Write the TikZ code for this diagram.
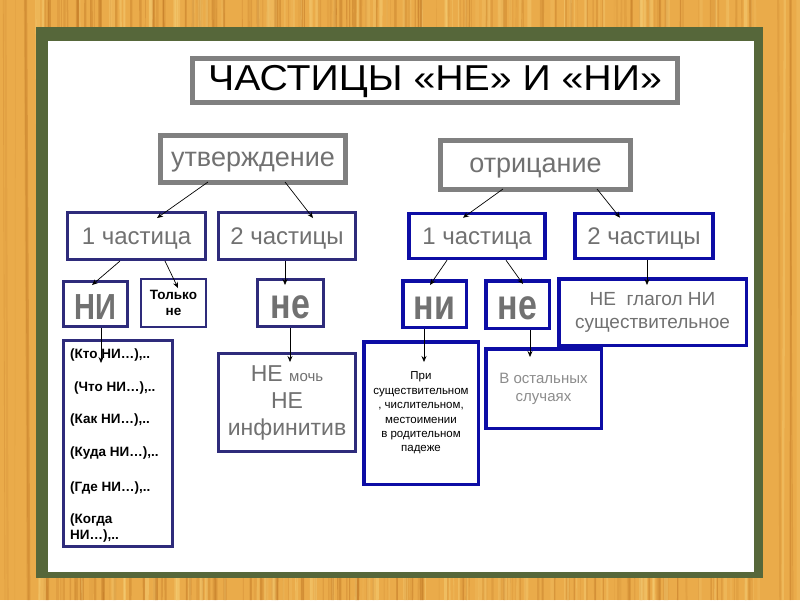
\documentclass[tikz,border=0pt]{standalone}
\usepackage{fontspec}
\usepackage{graphicx}
\setmainfont{Liberation Sans}
\usetikzlibrary{arrows.meta}
\definecolor{wood}{HTML}{EAAB4A}
\definecolor{grain}{HTML}{B96E1E}
\definecolor{lgrain}{HTML}{F7D27A}
\definecolor{boardgreen}{HTML}{56673A}
\definecolor{navy}{HTML}{2E2B7B}
\definecolor{bblue}{HTML}{0D0DA5}
\definecolor{gframe}{HTML}{808080}
\definecolor{gtext}{HTML}{717171}
\definecolor{ltext}{HTML}{8C8C8C}
\newcommand{\fsz}[2]{\fontsize{#1}{#2}\selectfont}
\newcommand{\tall}[1]{\raisebox{-15pt}[0pt][0pt]{\scalebox{1}[1.25]{#1}}}
\tikzset{
  box/.style={draw, fill=white, inner sep=0pt},
  graybox/.style={box, draw=gframe, line width=5pt},
  navybox/.style={box, draw=navy, line width=3pt},
  thinnavy/.style={box, draw=navy, line width=2pt},
  bluebox/.style={box, draw=bblue, line width=3.5pt},
  oneline/.style={text depth=0pt},
  arr/.style={draw=black, line width=0.7pt, -{Stealth[length=6pt,width=5pt]}},
  listtext/.style={anchor=west, inner sep=0pt, font=\fsz{13.5}{16}\bfseries, align=left},
}
\begin{document}
\begin{tikzpicture}[x=1pt,y=-1pt]
\useasboundingbox (0,0) rectangle (800,600);
% wooden frame
\fill[wood] (0,0) rectangle (800,600);
\pgfmathsetseed{7}
\foreach \i in {1,...,160}{
  \pgfmathsetmacro\xx{rnd*800}
  \pgfmathsetmacro\ww{0.4+rnd*2.5}
  \pgfmathsetmacro\oo{0.1+rnd*0.35}
  \pgfmathsetmacro\dx{rnd*8-4}
  \draw[grain, line width=\ww pt, opacity=\oo] (\xx,0) -- (\xx+\dx,600);
}
\foreach \i in {1,...,80}{
  \pgfmathsetmacro\xx{rnd*800}
  \pgfmathsetmacro\ww{1+rnd*3}
  \pgfmathsetmacro\oo{0.15+rnd*0.35}
  \pgfmathsetmacro\dx{rnd*8-4}
  \draw[lgrain, line width=\ww pt, opacity=\oo] (\xx,0) -- (\xx+\dx,600);
}
% board
\fill[boardgreen] (36,27) rectangle (763,578);
\fill[white] (48,41) rectangle (754,572);

% title
\node[graybox, minimum width=485pt, minimum height=44pt, text=black, font=\fsz{36}{40}] (title) at (435,80.5) {\raisebox{-10pt}[0pt][0pt]{\scalebox{1.09}[1]{ЧАСТИЦЫ «НЕ» И «НИ»}}};

% level 1
\node[graybox, oneline, minimum width=185pt, minimum height=47pt, text=gtext, font=\fsz{27}{30}] (utv) at (253,159) {утверждение};
\node[graybox, oneline, minimum width=190pt, minimum height=49pt, text=gtext, font=\fsz{27}{30}] (otr) at (535.5,165) {отрицание};

% level 2
\node[navybox, oneline, minimum width=138pt, minimum height=47pt, text=gtext, font=\fsz{24}{28}] (c1L) at (136.5,236) {1 частица};
\node[navybox, oneline, minimum width=137pt, minimum height=47pt, text=gtext, font=\fsz{24}{28}] (c2L) at (287,236) {2 частицы};
\node[bluebox, oneline, minimum width=136pt, minimum height=45pt, text=gtext, font=\fsz{24}{28}] (c1R) at (477,236) {1 частица};
\node[bluebox, oneline, minimum width=138pt, minimum height=45pt, text=gtext, font=\fsz{24}{28}] (c2R) at (644,236) {2 частицы};

% level 3 left
\node[navybox, minimum width=64pt, minimum height=45pt, text=gtext, font=\fsz{29}{30}\bfseries] (niL) at (95.5,304) {\tall{НИ}};
\node[thinnavy, minimum width=65pt, minimum height=48pt, text=black, font=\fsz{13.5}{16}\bfseries, align=center] (tolko) at (173.5,303) {Только\\не};
\node[navybox, minimum width=109pt, minimum height=206pt] (list) at (118,443.5) {};
\node[listtext] (l1) at (70,355) {(Кто НИ…),..};
\node[listtext] (l2) at (74,388) {(Что НИ…),..};
\node[listtext] (l3) at (70,420) {(Как НИ…),..};
\node[listtext] (l4) at (70,453) {(Куда НИ…),..};
\node[listtext] (l5) at (70,488) {(Где НИ…),..};
\node[listtext] (l6) at (70,527.5) {(Когда\\НИ…),..};

% level 3 middle
\node[navybox, minimum width=66pt, minimum height=47pt, text=gtext, font=\fsz{34}{34}\bfseries] (neM) at (290.5,303) {\tall{не}};
\node[navybox, minimum width=137pt, minimum height=98pt, text=gtext, font=\fsz{23}{27}, align=center] (nemoch) at (287,402.5) {НЕ {\fsz{15}{27}мочь}\\НЕ\\инфинитив};

% level 3 right
\node[bluebox, minimum width=63.5pt, minimum height=46.5pt, text=gtext, font=\fsz{34}{34}\bfseries] (niR) at (434.5,304) {\tall{ни}};
\node[bluebox, minimum width=63.5pt, minimum height=47.5pt, text=gtext, font=\fsz{34}{34}\bfseries] (neR) at (517.5,304.5) {\tall{не}};
\node[bluebox, minimum width=187.5pt, minimum height=66.5pt, text=gtext, font=\fsz{19}{23}, align=center] (neglag) at (652.5,312) {НЕ\ \ глагол НИ\\существительное};
\node[bluebox, minimum width=114.5pt, minimum height=142.5pt, text=black, font=\fsz{11.5}{14.4}, align=center] (pri) at (421,413) {При\\существительном\\, числительном,\\местоимении\\в родительном\\падеже};
\node[bluebox, minimum width=115.5pt, minimum height=79.5pt, text=ltext, font=\fsz{15}{18}, align=center] (ostal) at (543.5,388.5) {В остальных\\случаях};

% connectors
\draw[arr] ([xshift=-45pt,yshift=3pt]utv.south) -- ([xshift=20.5pt,yshift=-7pt]c1L.north);
\draw[arr] ([xshift=32pt,yshift=3pt]utv.south) -- ([xshift=26pt,yshift=-7pt]c2L.north);
\draw[arr] ([xshift=-32.5pt,yshift=3pt]otr.south) -- ([xshift=-14pt,yshift=-6pt]c1R.north);
\draw[arr] ([xshift=61.5pt,yshift=3pt]otr.south) -- ([xshift=-24pt,yshift=-6pt]c2R.north);
\draw[arr] ([xshift=-16.5pt]c1L.south) -- ([xshift=-3.5pt,yshift=-5pt]niL.north);
\draw[arr] ([xshift=28.5pt]c1L.south) -- ([xshift=4.5pt,yshift=-10pt]tolko.north);
\draw[arr] ([xshift=5.5pt]niL.south) -- ([xshift=-17pt,yshift=-24pt]list.north);
\draw[arr] ([xshift=-2pt]c2L.south) -- ([xshift=-5.5pt,yshift=-7pt]neM.north);
\draw[arr] ([xshift=-0.5pt]neM.south) -- ([xshift=3pt,yshift=-10pt]nemoch.north);
\draw[arr] ([xshift=-30pt]c1R.south) -- ([xshift=-4.5pt,yshift=-6pt]niR.north);
\draw[arr] ([xshift=29pt]c1R.south) -- ([xshift=5.5pt,yshift=-5pt]neR.north);
\draw[arr] ([xshift=-10.5pt]niR.south) -- ([xshift=3pt,yshift=-22pt]pri.north);
\draw[arr] ([xshift=12.5pt]neR.south) -- ([xshift=-13.5pt,yshift=-10pt]ostal.north);
\draw[arr] ([xshift=3pt]c2R.south) -- ([xshift=-5.5pt,yshift=-8pt]neglag.north);
\end{tikzpicture}
\end{document}
